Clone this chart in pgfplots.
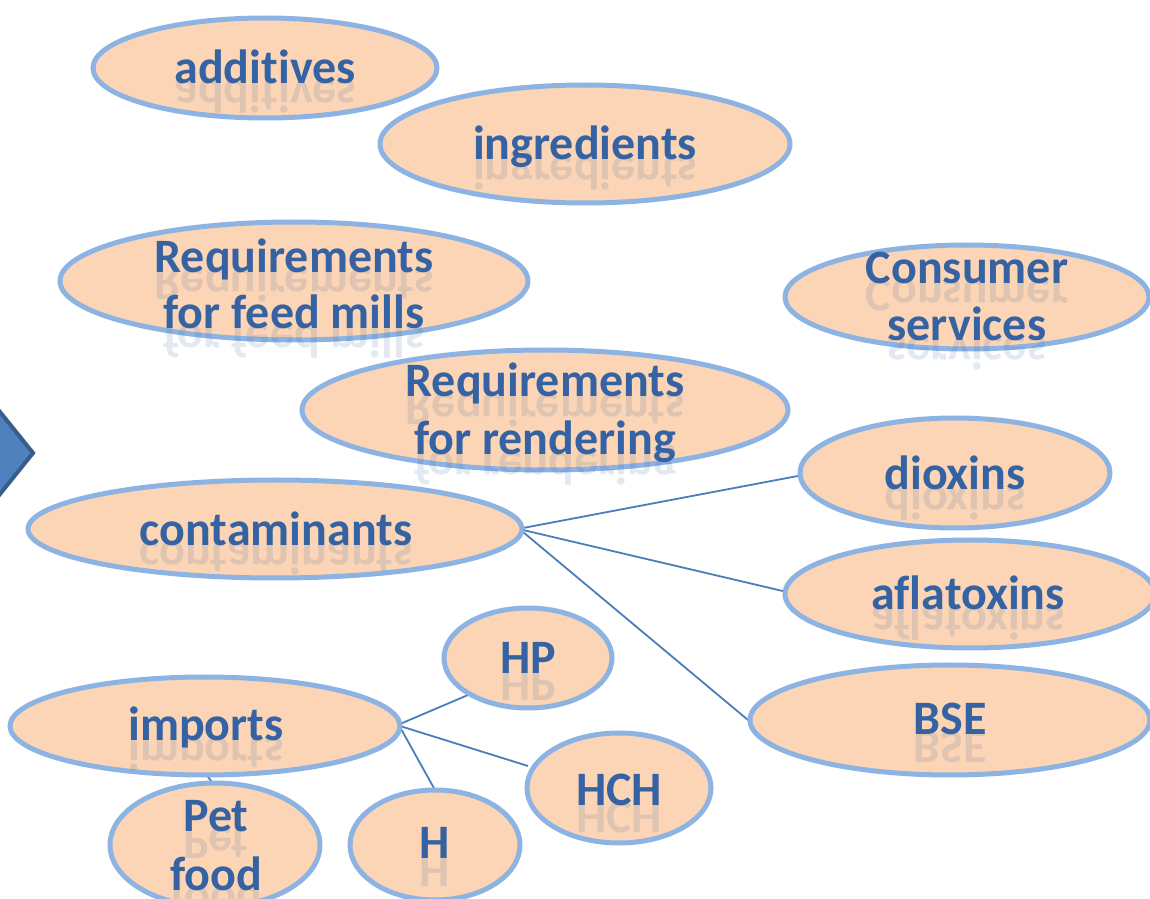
\documentclass[border=0pt]{standalone}
\usepackage{pgfplots}
\pgfplotsset{compat=1.18}
\usetikzlibrary{shapes.geometric}
\usepackage{fontspec}
\setmainfont{Carlito}[Ligatures=NoCommon]
\definecolor{efill}{HTML}{FBD5B5}
\definecolor{edraw}{HTML}{8DB3E2}
\definecolor{etext}{HTML}{3562A3}
\definecolor{lcol}{HTML}{4A7EBB}
\definecolor{afill}{HTML}{4F81BD}
\definecolor{adraw}{HTML}{385D8A}
\pgfplotstableread{
cx   cy   rx   ry
265  68   172  50
585  144  205  59
294  281  234  59
967  297  182  52
545  410  243  60
955  473  155  55
275  529  247  49
970  594  185  54
950  720  200  55
528  658  84   50
205  726  195  49
619  788  92   55
215  845  105  62
435  845  85   55
}\ellipses
\begin{document}
\begin{tikzpicture}
\begin{axis}[
  scale only axis, hide axis, clip=false,
  x=0.25pt, y=0.25pt, y dir=reverse,
  xmin=0, xmax=1150, ymin=0, ymax=899,
]
% arrow at left edge
\addplot[fill=afill, draw=adraw, line width=1pt] coordinates {(-20,387) (33,453) (-20,519)} -- cycle;
% connector lines
\addplot[lcol, line width=0.45pt] coordinates {(523,528) (803,475)};
\addplot[lcol, line width=0.45pt] coordinates {(523,530) (787,592)};
\addplot[lcol, line width=0.45pt] coordinates {(523,532) (748,720)};
\addplot[lcol, line width=0.45pt] coordinates {(400,724) (468,695)};
\addplot[lcol, line width=0.45pt] coordinates {(400,726) (528,766)};
\addplot[lcol, line width=0.45pt] coordinates {(400,727) (435,790)};
\addplot[lcol, line width=0.45pt] coordinates {(205,773) (215,786)};
% ellipses
\addplot[draw=none, mark=none,
  visualization depends on={0.5*\thisrow{rx} \as \ew},
  visualization depends on={0.5*\thisrow{ry} \as \eh},
  nodes near coords={},
  nodes near coords style={shape=ellipse, anchor=center, inner sep=0pt, outer sep=0pt,
     fill=efill, draw=edraw, line width=1.25pt,
     minimum width=\ew pt, minimum height=\eh pt},
] table[x=cx, y=cy] {\ellipses};
% reflections
\addplot[draw=none, mark=none, point meta=explicit symbolic,
  nodes near coords,
  nodes near coords style={anchor=base, inner sep=0pt, yscale=-1, yshift=-1pt,
     font=\bfseries\fontsize{12}{14}\selectfont, text=etext, opacity=0.14},
] coordinates {
(265,83) [addit\kern0pt ives]
(585,160) [ingredients]
(294,272) [Requirements]
(294,328) [for feed mills]
(967,283) [Consumer]
(967,340) [services]
(545,397) [Requirements]
(545,455) [for rendering]
(955,490) [dioxins]
(276,545) [contaminants]
(968,610) [aflatoxins]
(528,673) [HP]
(950,735) [BSE]
(206,741) [imports]
(619,805) [HCH]
(216,831) [Pet]
(216,890) [food]
(435,859) [H]
};
% labels
\addplot[draw=none, mark=none, point meta=explicit symbolic,
  nodes near coords,
  nodes near coords style={anchor=base, inner sep=0pt,
     font=\bfseries\fontsize{12}{14}\selectfont, text=etext},
] coordinates {
(265,83) [addit\kern0pt ives]
(585,160) [ingredients]
(294,272) [Requirements]
(294,328) [for feed mills]
(967,283) [Consumer]
(967,340) [services]
(545,397) [Requirements]
(545,455) [for rendering]
(955,490) [dioxins]
(276,545) [contaminants]
(968,610) [aflatoxins]
(528,673) [HP]
(950,735) [BSE]
(206,741) [imports]
(619,805) [HCH]
(216,831) [Pet]
(216,890) [food]
(435,859) [H]
};
\end{axis}
\pgfresetboundingbox
\path (current axis.south west) rectangle (current axis.north east);
\end{tikzpicture}
\end{document}
